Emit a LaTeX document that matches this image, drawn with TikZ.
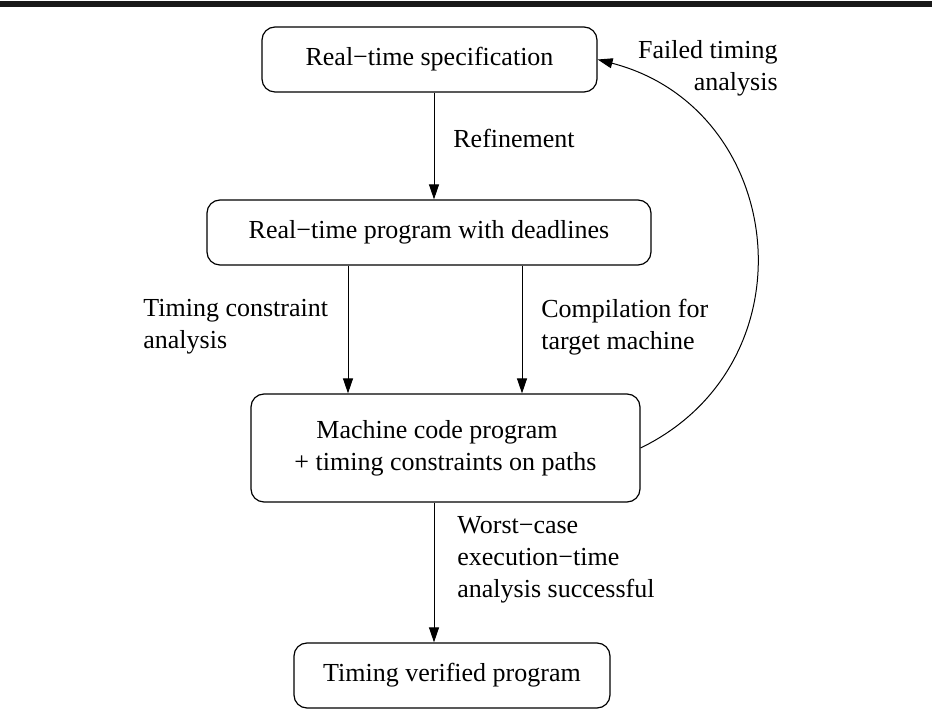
\documentclass[tikz,border=0pt]{standalone}
\usepackage{fontspec}
\setmainfont{Liberation Serif}
\usetikzlibrary{arrows.meta}
\begin{document}
\begin{tikzpicture}[x=0.5pt,y=0.5pt,
  box/.style={draw, line width=0.6pt, rounded corners=6.5pt, inner sep=0pt,
    font=\fontsize{13}{16}\selectfont, align=center},
  lbl/.style={inner sep=0pt, font=\fontsize{13}{16}\selectfont},
  flow/.style={line width=0.5pt, -{Triangle[length=7.5pt,width=5pt]}}]
\useasboundingbox (0,0) rectangle (932,728);
% heavy rule along the top edge
\fill[black!90] (0,721) rectangle (932,727);

% stages
\node[box, minimum width=167.5pt, minimum height=32.5pt] (s) at (429.5,668.5)
  {Real−time specification};
\node[box, minimum width=222pt, minimum height=32.5pt] (p) at (429,495.5)
  {Real−time program with deadlines};
\node[box, minimum width=194.5pt, minimum height=54pt] (m) at (445.5,280)
  {Machine code program\hspace*{8.5pt}\\+ timing constraints on paths};
\node[box, minimum width=158pt, minimum height=32.5pt] (v) at (452,52.5)
  {Timing verified program};

% transitions
\draw[flow] ([xshift=2.25pt]s.south) -- ([xshift=2.25pt]s.south |- p.north);
\draw[flow] ([xshift=-40.5pt]p.south) -- ([xshift=-40.5pt]p.south |- m.north);
\draw[flow] ([xshift=46.5pt]p.south) -- ([xshift=46.5pt]p.south |- m.north);
\draw[flow] ([xshift=-5.75pt]m.south) -- ([xshift=-5.75pt]m.south |- v.north);
\draw[flow] (m.east) .. controls +(26:195) and +(-14.5:195) .. (s.east);

% transition labels
\node[lbl, anchor=west] (lr) at (453,590) {Refinement};
\node[lbl, anchor=west, align=left] (lt) at (143,401)
  {Timing constraint\\analysis};
\node[lbl, anchor=west, align=left] (lc) at (541,401)
  {Compilation for\\target machine};
\node[lbl, anchor=west, align=left] (lw) at (457,168)
  {Worst−case\\execution−time\\analysis successful};
\node[lbl, anchor=east, align=right] (lf) at (778,660)
  {Failed timing\\analysis};
\end{tikzpicture}
\end{document}
